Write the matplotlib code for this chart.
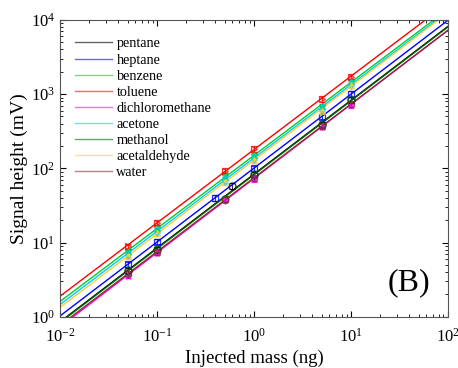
import numpy as np
import matplotlib
matplotlib.use("Agg")
import matplotlib.pyplot as plt

plt.rcParams['font.family'] = ['Liberation Serif', 'DejaVu Serif']
plt.rcParams['mathtext.fontset'] = 'stix'

names = ["pentane", "heptane", "benzene", "toluene", "dichloromethane",
         "acetone", "methanol", "acetaldehyde", "water"]
colors = ["#000000", "#0000ff", "#00cc33", "#ff0000", "#ff00ff",
          "#00ccff", "#006600", "#ffcc33", "#8b2c2c"]
markers = ["o", "s", "*", ">", "*", "d", "o", "^", "h"]

mass_pentane = [0.05, 0.1, 0.6, 1, 5, 10]
mass_heptane = [0.05, 0.1, 0.4, 1, 5, 10]
mass_default = [0.05, 0.1, 0.5, 1, 5, 10]

sig_pentane = [4.2, 8.0, 58, 82, 385, 837]
sig_heptane = [5.1, 10.3, 40, 100, 498, 1007]
sig_benzene = [7.6, 15.8, 78, 150, 690, 1480]
sig_toluene = [9.0, 18.6, 93, 183, 863, 1722]
sig_dcm = [3.6, 7.3, 38, 72, 365, 717]
sig_acetone = [7.0, 14.5, 70, 140, 640, 1380]
sig_methanol = [4.3, 8.2, 39, 84, 390, 850]
sig_acetaldehyde = [6.5, 13.5, 65, 130, 600, 1330]
sig_water = [3.8, 7.5, 38, 74, 370, 730]

masses = [mass_pentane, mass_heptane, mass_default, mass_default, mass_default,
          mass_default, mass_default, mass_default, mass_default]
signals = [sig_pentane, sig_heptane, sig_benzene, sig_toluene, sig_dcm,
           sig_acetone, sig_methanol, sig_acetaldehyde, sig_water]

fig = plt.figure(figsize=(4.58, 3.68), dpi=100)
ax = fig.add_axes([0.131, 0.139, 0.847, 0.807])

xfit = np.logspace(-2, 2, 50)
for n, c, m, xs, ys in zip(names, colors, markers, masses, signals):
    xs = np.array(xs); ys = np.array(ys)
    b, a = np.polyfit(np.log10(xs), np.log10(ys), 1)
    ax.plot(xfit, 10 ** (a + b * np.log10(xfit)), color=c, lw=1.0, label=n)
    ax.errorbar(xs, ys, yerr=ys * 0.08, fmt=m, color=c, ms=5, mfc='none',
                mew=0.9, elinewidth=0.8, capsize=2, alpha=0.8)

ax.set_xscale('log'); ax.set_yscale('log')
ax.set_xlim(1e-2, 1e2); ax.set_ylim(1e0, 1e4)
ax.set_xlabel("Injected mass (ng)", fontsize=13.5, labelpad=3)
ax.set_ylabel("Signal height (mV)", fontsize=14, labelpad=2)
ax.tick_params(which='both', direction='in', top=True, right=True, labelsize=12)
ax.tick_params(axis='x', which='major', pad=8)
ax.tick_params(which='major', length=4)
ax.tick_params(which='minor', length=2)
for s in ax.spines.values():
    s.set_color('#555555')
    s.set_linewidth(0.8)

leg = ax.legend(loc='upper left', frameon=False, fontsize=10.2, handlelength=2.6,
                labelspacing=0.22, borderaxespad=0.0, handletextpad=0.3,
                bbox_to_anchor=(0.025, 0.96))
for h in leg.get_lines():
    h.set_alpha(0.6)
ax.text(0.955, 0.065, "(B)", transform=ax.transAxes, fontsize=23, ha='right', va='bottom')

fig.savefig("out.png", dpi=100)
